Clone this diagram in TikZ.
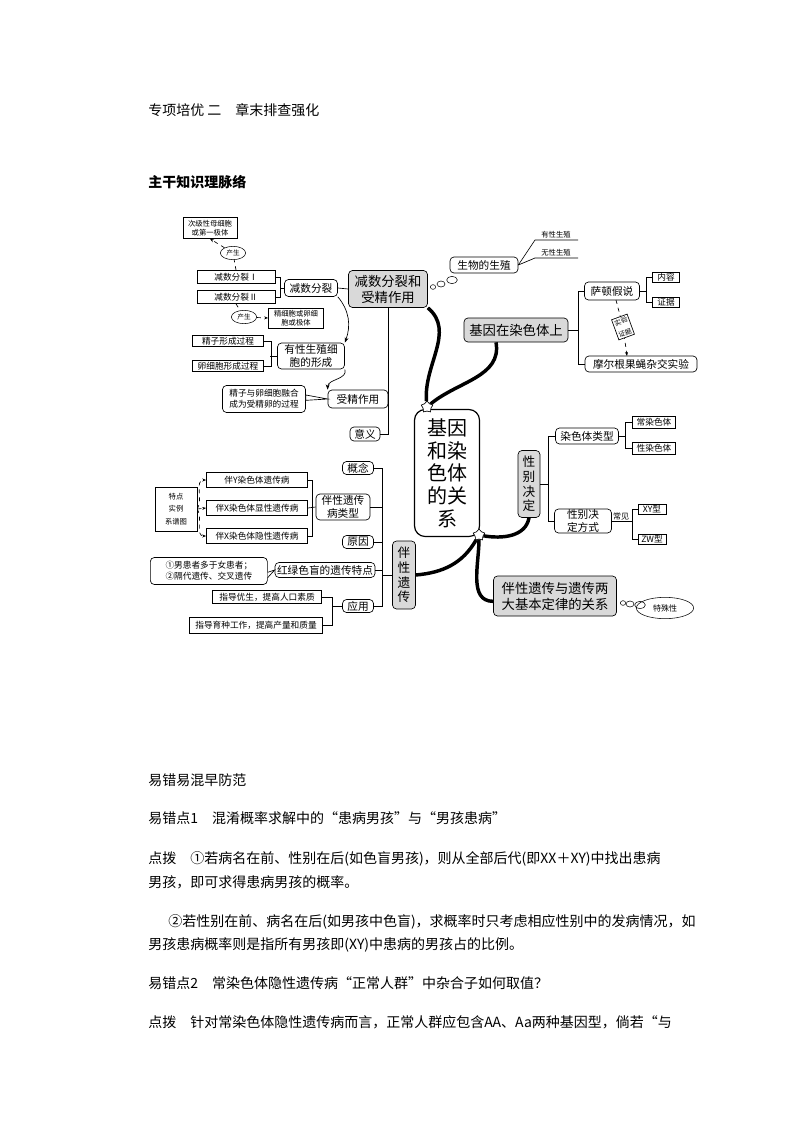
\documentclass[tikz,border=0pt]{standalone}
\usepackage{fontspec}
\setmainfont{Noto Sans CJK SC}
\usetikzlibrary{shapes.geometric,arrows.meta}
\tikzset{
 sz/.style 2 args={minimum width=#1*0.75pt,minimum height=#2*0.75pt,inner sep=0pt},
 bx/.style={draw,fill=white,line width=0.5pt,align=center,font=\fontsize{6.5}{8}\selectfont},
 rb/.style={bx,rounded corners=3pt,font=\fontsize{8}{9.5}\selectfont},
 gb/.style={rb,fill=gray!30,font=\fontsize{10}{12}\selectfont},
 ln/.style={line width=0.5pt},
 thk/.style={line width=2.6pt},
 st/.style={star,star points=5,draw,fill=white,inner sep=0pt,minimum size=9pt,line width=0.4pt},
 txt/.style={anchor=base west,inner sep=0pt,font=\fontsize{10.5}{12}\selectfont},
 bub/.style={draw,ellipse,inner sep=0pt,line width=0.4pt}
}
\begin{document}
\begin{tikzpicture}[x=0.75pt,y=-0.75pt]
\path[use as bounding box,fill=white] (0,0) rectangle (794,1123);
% header
\node[txt] (h1) at (148,116) {专项培优\ 二\quad 章末排查强化};
\node[txt,font=\fontsize{10.5}{12}\bfseries] (h2) at (148,188) {主干知识理脉络};
% centre
\node[rb,sz={65}{127},rounded corners=8pt,line width=0.9pt,font=\fontsize{15}{17}\selectfont] (c) at (447,473) {基因\\和染\\色体\\的关\\系};
% left top
\node[gb,sz={79}{37}] (js) at (388,289) {减数分裂和\\受精作用};
\node[rb,sz={53}{17}] (jf) at (311,288) {减数分裂};
\node[bx,sz={78}{13}] (j1) at (236,277) {减数分裂Ⅰ};
\node[bx,sz={78}{13}] (j2) at (236,297) {减数分裂Ⅱ};
\node[bx,sz={54}{21},font=\fontsize{5.5}{6.5}\selectfont] (cj) at (210,228) {次级性母细胞\\或第一极体};
\node[bub,minimum width=19pt,minimum height=10pt,font=\fontsize{5}{6}\selectfont] (p1) at (233,253) {产生};
\node[bub,minimum width=19pt,minimum height=10pt,font=\fontsize{5}{6}\selectfont] (p2) at (244,317) {产生};
\node[bx,sz={55}{20},font=\fontsize{5.5}{6.5}\selectfont] (jx) at (296,318) {精细胞或卵细\\胞或极体};
\node[rb,sz={67}{26}] (yx) at (311,356) {有性生殖细\\胞的形成};
\node[bx,sz={71}{11}] (jz) at (228,341) {精子形成过程};
\node[bx,sz={71}{11}] (lx) at (228,366) {卵细胞形成过程};
\node[rb,sz={60}{18}] (sj) at (358,399) {受精作用};
\node[rb,sz={83}{27},font=\fontsize{6.5}{8}\selectfont] (rh) at (264,399) {精子与卵细胞融合\\成为受精卵的过程};
\node[rb,sz={30}{14}] (yy) at (365,434) {意义};
\draw[ln] (j1.east) -- ++(5,0) |- (j2.east);
\draw[ln] (jf.west) -- (280,288);
\draw[ln] (jz.east) -- ++(7,0) |- (lx.east);
\draw[ln] (yx.west) -- (270,356);
\draw[ln] (js.south) |- (yy.east);
\draw[ln] (sj.east) -- (388,399);
\draw[ln] (jf.east) -- (js.west);
\draw[ln,-{Stealth[length=4pt]}] (jf.south east) to[out=-50,in=70] (yx.north east);
\draw[ln,-{Stealth[length=4pt]}] (yx.south east) to[out=-70,in=90] (sj.north west);
\draw[ln,dashed,-{Stealth[length=3pt]}] (j1.north) -- (p1) -- (cj.south);
\draw[ln,dashed,-{Stealth[length=3pt]}] (j2.south) -- (p2) -- (jx.west);
\draw[ln,fill=white] (rh.east) ++(0,-4) -- (sj.west) -- ([yshift=-1pt]rh.east) -- cycle;
% bubbles and reproduction
\node[bub,minimum width=4pt,minimum height=3.5pt] (b1) at (433,287) {};
\node[bub,minimum width=6pt,minimum height=4.5pt] (b2) at (441,284) {};
\node[bub,minimum width=8pt,minimum height=5.5pt] (b3) at (452,280) {};
\node[rb,sz={68}{16}] (sw) at (484,265) {生物的生殖};
\coordinate (ya) at (535,240); \coordinate (yb) at (578,240);
\coordinate (wa) at (535,258); \coordinate (wb) at (578,258);
\draw[ln] (sw.east) -- (ya) -- (yb);
\draw[ln] (sw.east) -- (wa) -- (wb);
\node[above,font=\fontsize{5.5}{6.5}\selectfont,inner sep=1pt] (yt) at (556,240) {有性生殖};
\node[above,font=\fontsize{5.5}{6.5}\selectfont,inner sep=1pt] (wt) at (556,258) {无性生殖};
% gene on chromosome
\node[gb,sz={104}{24}] (jy) at (516,330) {基因在染色体上};
\node[rb,sz={55}{18}] (sd) at (612,291) {萨顿假说};
\node[bx,sz={27}{10}] (nr) at (666,277) {内容};
\node[bx,sz={27}{10}] (zj) at (666,302) {证据};
\node[rb,sz={112}{16}] (me) at (641,364) {摩尔根果蝇杂交实验};
\draw[ln] (jy.east) -- (578,330);
\draw[ln] (sd.west) -- (578,291) -- (578,364) -- (me.west);
\draw[ln] (sd.east) -- ++(6,0) coordinate (sdx);
\draw[ln] (nr.west) -| (sdx) |- (zj.west);
\draw[ln,dashed] (616,300) -- (623,327);
\draw[ln,dashed,-{Stealth[length=3pt]}] (623,327) -- (627,356);
\node[bx,rotate=20,font=\fontsize{5}{9}\selectfont,inner sep=1.2pt] (sy) at (623,327) {实验\\证据};
% sex determination
\node[gb,sz={22}{67},font=\fontsize{9.5}{11}\selectfont] (xb) at (529,484) {性\\别\\决\\定};
\node[rb,sz={63}{16}] (rs) at (587,436) {染色体类型};
\node[bx,sz={43}{12}] (cr) at (654,422) {常染色体};
\node[bx,sz={43}{12}] (xr) at (654,448) {性染色体};
\node[rb,sz={57}{24}] (fs) at (583,521) {性别决\\定方式};
\node[font=\fontsize{6}{7}\selectfont,inner sep=0pt,anchor=south] (cj2) at (621,520) {常见};
\node[bx,sz={28}{10}] (xy) at (652,509) {XY型};
\node[bx,sz={28}{10}] (zw) at (652,539) {ZW型};
\draw[ln] (xb.east) -- (548,484);
\draw[ln] (rs.west) -- (548,436) -- (548,521) -- (fs.west);
\draw[ln] (rs.east) -- ++(6,0) coordinate (rsx);
\draw[ln] (cr.west) -| (rsx) |- (xr.west);
\coordinate (cjx) at (632,521);
\draw[ln] (xy.west) -| (cjx) |- (zw.west);
\draw[ln] (fs.east) -- (cjx);
% relation
\node[gb,sz={123}{40}] (gx) at (555,596) {伴性遗传与遗传两\\大基本定律的关系};
\node[bub,minimum width=4pt,minimum height=3.5pt] (c1) at (623,603) {};
\node[bub,minimum width=6pt,minimum height=4.5pt] (c2) at (630,604) {};
\node[bub,minimum width=8pt,minimum height=5.5pt] (c3) at (640,605) {};
\node[bub,minimum width=43pt,minimum height=16pt,font=\fontsize{6}{7}\selectfont] (ts) at (665,608) {特殊性};
% sex-linked
\node[gb,sz={23}{68},font=\fontsize{9.5}{11}\selectfont] (bx) at (404,575) {伴\\性\\遗\\传};
\node[rb,sz={31}{13}] (gn) at (358,468) {概念};
\node[rb,sz={54}{26}] (lx2) at (343,507) {伴性遗传\\病类型};
\node[rb,sz={31}{13}] (yin) at (358,542) {原因};
\node[rb,sz={100}{15}] (hl) at (325,570) {红绿色盲的遗传特点};
\node[rb,sz={31}{13}] (yyg) at (358,606) {应用};
\draw[ln] (gn.east) -- (382,468) -- (382,606) -- (yyg.east);
\draw[ln] (lx2.east) -- (382,507);
\draw[ln] (yin.east) -- (382,542);
\draw[ln] (hl.east) -- (382,570);
\draw[ln] (bx.west) -- (382,575);
\node[bx,sz={101}{15}] (by) at (257,480) {伴Y染色体遗传病};
\node[bx,sz={101}{15}] (bxx) at (257,508) {伴X染色体显性遗传病};
\node[bx,sz={101}{15}] (byx) at (257,536) {伴X染色体隐性遗传病};
\draw[ln] (by.east) -- ++(4,0) coordinate (byx1);
\draw[ln] (byx1) |- (byx.east);
\draw[ln] (bxx.east) -- (lx2.west);
\node[bx,sz={42}{44},font=\fontsize{5.5}{9.5}\selectfont] (td) at (176,509) {特点\\实例\\系谱图};
\draw[ln,dashed,-{Stealth[length=3pt]}] (td.east) to[out=60,in=180] (by.west);
\draw[ln,dashed,-{Stealth[length=3pt]}] (td.east) -- (bxx.west);
\draw[ln,dashed,-{Stealth[length=3pt]}] (td.east) to[out=-60,in=180] (byx.west);
\node[rb,sz={117}{27},anchor=west,font=\fontsize{6.5}{8}\selectfont,align=left] (tz) at (150,571) {①男患者多于女患者；\\②隔代遗传、交叉遗传};
\draw[ln,fill=white] ([yshift=-5pt]tz.east) -- (hl.west) -- ([yshift=-1pt]tz.east);
\node[bx,sz={109}{13}] (yo) at (267,597) {指导优生，提高人口素质};
\node[bx,sz={133}{16}] (yz) at (256,625) {指导育种工作，提高产量和质量};
\draw[ln] (yo.east) -- (332,597) |- (yz.east);
\draw[ln] (332,606) -- (yyg.west);
% thick connectors
\node[st] (s1) at (427,407) {};
\node[st] (s2) at (479,535) {};
\draw[thk] (js.south east) to[out=-40,in=95] (s1);
\draw[thk] ([xshift=-15pt]jy.south) to[out=-80,in=40] (s1);
\draw[thk] (xb.south) to[out=-100,in=-10] (s2);
\draw[thk] (bx.east) to[out=5,in=-120] (s2);
\draw[thk] ([yshift=-4pt]gx.west) to[out=180,in=-90] (s2);
\node[st] at (427,407) {};
\node[st] at (479,535) {};
% text
\node[txt] (t1) at (148,785) {易错易混早防范};
\node[txt] (t2) at (148,823) {易错点1\quad 混淆概率求解中的“患病男孩”与“男孩患病”};
\node[txt] (t3) at (148,863) {点拨\quad ①若病名在前、性别在后(如色盲男孩)，则从全部后代(即XX＋XY)中找出患病};
\node[txt] (t4) at (148,887) {男孩，即可求得患病男孩的概率。};
\node[txt] (t5) at (168,926) {②若性别在前、病名在后(如男孩中色盲)，求概率时只考虑相应性别中的发病情况，如};
\node[txt] (t6) at (148,949) {男孩患病概率则是指所有男孩即(XY)中患病的男孩占的比例。};
\node[txt] (t7) at (148,988) {易错点2\quad 常染色体隐性遗传病“正常人群”中杂合子如何取值？};
\node[txt] (t8) at (148,1027) {点拨\quad 针对常染色体隐性遗传病而言，正常人群应包含AA、Aa两种基因型，倘若“与};
\end{tikzpicture}
\end{document}
